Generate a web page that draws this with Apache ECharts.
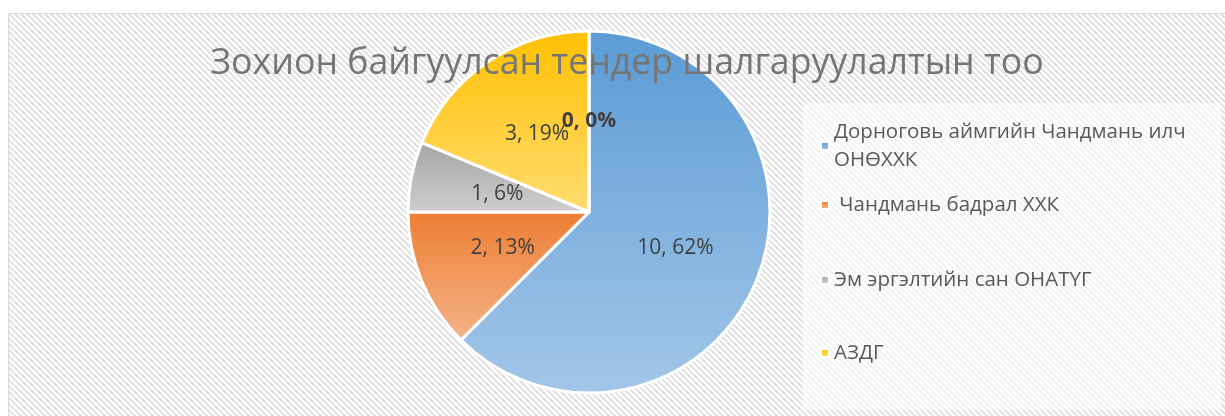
<!DOCTYPE html>
<html>
<head>
<meta charset="utf-8">
<script src="https://cdn.jsdelivr.net/npm/echarts@6/dist/echarts.min.js"></script>
<style>
  html, body { margin: 0; padding: 0; background: #fff; }
  #chart { width: 1225px; height: 416px; }
</style>
</head>
<body>
<div id="chart"></div>
<script>
// данные диаграммы
const names = ['Дорноговь аймгийн Чандмань илч ОНӨХХК', ' Чандмань бадрал ХХК', 'Эм эргэлтийн сан ОНАТҮГ', 'АЗДГ', ''];
const counts = [10, 2, 1, 3, 0];
const pcts = [62, 13, 6, 19, 0]; // как подписано на картинке
const legendNames = names.slice(0, 4);

const colorTop = ['#5b9bd5', '#ed7d31', '#a5a5a5', '#ffc000', '#5b9bd5'];
const colorBottom = ['#a3c6e8', '#f5b48a', '#cfcfcf', '#ffdc70', '#a3c6e8'];

// штриховка фона
function stripes() {
    const c = document.createElement('canvas');
    c.width = 6; c.height = 6;
    const ctx = c.getContext('2d');
    for (let x = 0; x < 6; x++) {
        for (let y = 0; y < 6; y++) {
            const k = ((x - y) % 6 + 6) % 6;
            ctx.fillStyle = k < 3 ? '#e2e2e2' : '#ffffff';
            ctx.fillRect(x, y, 1, 1);
        }
    }
    return c;
}

const myChart = echarts.init(document.getElementById('chart'));

const pieData = counts.map((v, i) => {
    const item = {
        name: names[i],
        value: v,
        itemStyle: {
            color: {
                type: 'linear', x: 0, y: 0, x2: 0, y2: 1,
                colorStops: [
                    { offset: 0, color: colorTop[i] },
                    { offset: 1, color: colorBottom[i] }
                ]
            }
        }
    };
    if (v === 0) item.label = { fontWeight: 'bold', offset: [0, 3] };
    return item;
});

// высота строк легенды (первая в две строки)
const legendLH = [28, 62, 88, 58];

const option = {
    backgroundColor: '#fff',
    animation: false,
    graphic: [
        {
            type: 'rect', z: -10, silent: true,
            shape: { x: 8.5, y: 13.5, width: 1230, height: 420 },
            style: { fill: { image: stripes(), repeat: 'repeat' }, stroke: '#d9d9d9', lineWidth: 1 }
        },
        {
            type: 'rect', z: -9, silent: true,
            shape: { x: 803, y: 103, width: 418, height: 307 },
            style: { fill: 'rgba(255,255,255,0.6)' }
        }
    ],
    title: {
        text: 'Зохион байгуулсан тендер шалгаруулалтын тоо',
        left: 622,
        textAlign: 'center',
        top: 41,
        textStyle: {
            fontFamily: 'Open Sans',
            fontSize: 35.7,
            fontWeight: 'normal',
            color: '#757575'
        }
    },
    legend: {
        orient: 'vertical',
        left: 815,
        top: 113,
        itemWidth: 8,
        itemHeight: 8,
        itemGap: 0,
        icon: 'rect',
        data: legendNames.map((n, i) => ({ name: n, textStyle: { lineHeight: legendLH[i] } })),
        formatter: n => n === legendNames[0] ? 'Дорноговь аймгийн Чандмань илч\nОНӨХХК' : n,
        textStyle: {
            fontFamily: 'Open Sans',
            fontSize: 20.5,
            color: '#595959'
        }
    },
    series: [
        {
            type: 'pie',
            center: [589, 212],
            radius: 181,
            startAngle: 90,
            clockwise: true,
            data: pieData,
            itemStyle: { borderColor: '#fff', borderWidth: 3 },
            label: {
                position: 'inside',
                fontFamily: 'Open Sans',
                fontSize: 21,
                color: '#404040',
                formatter: p => counts[p.dataIndex] + ', ' + pcts[p.dataIndex] + '%'
            },
            labelLayout: { hideOverlap: false },
            labelLine: { show: false },
            emphasis: { disabled: true }
        }
    ]
};

option && myChart.setOption(option);
</script>
</body>
</html>
